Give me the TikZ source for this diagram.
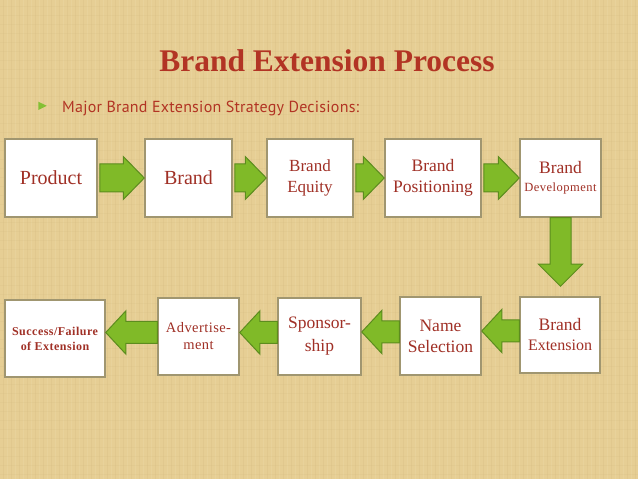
\documentclass[tikz,border=0pt]{standalone}
\usepackage{fontspec}
\setmainfont{Liberation Serif}
\newfontfamily\subfont{PT Sans}
\usetikzlibrary{calc}
\definecolor{bg}{RGB}{230,206,148}
\definecolor{bgdark}{RGB}{205,178,118}
\definecolor{bglight}{RGB}{240,222,176}
\definecolor{titlered}{RGB}{178,52,36}
\definecolor{txtred}{RGB}{160,48,38}
\definecolor{boxline}{RGB}{160,150,112}
\definecolor{arrfill}{RGB}{128,186,40}
\definecolor{arrline}{RGB}{92,140,30}
\definecolor{bullet}{RGB}{132,192,52}
\tikzset{
  stepbox/.style={draw=boxline, line width=1.5pt, fill=white, text=txtred, align=center, inner sep=1pt},
  greenarr/.style={fill=arrfill, draw=arrline, line width=1pt, line join=miter},
}
\newcommand{\arrR}[2]{\path[greenarr] let \p1=(#1.east), \p2=(#2.west) in
  (\x1+2,\y1+14) -- (\x2-21,\y1+14) -- (\x2-21,\y1+21.5) -- (\x2,\y1) --
  (\x2-21,\y1-21.5) -- (\x2-21,\y1-14) -- (\x1+2,\y1-14) -- cycle;}
\newcommand{\arrL}[2]{\path[greenarr] let \p1=(#1.west), \p2=(#2.east) in
  (\x1,\y1+15) -- (\x2+20,\y1+15) -- (\x2+20,\y1+25.5) -- (\x2,\y1+4) --
  (\x2+20,\y1-17.5) -- (\x2+20,\y1-7) -- (\x1,\y1-7) -- cycle;}
\begin{document}
\begin{tikzpicture}[x=1pt,y=1pt]
\useasboundingbox (0,0) rectangle (638,479);
\fill[bg] (0,0) rectangle (638,479);
\foreach \i in {3,11,...,638} \draw[bgdark, opacity=0.18, line width=0.8pt] (\i,0) -- (\i,479);
\foreach \i in {7,15,...,638} \draw[bglight, opacity=0.25, line width=1pt] (\i,0) -- (\i,479);
\foreach \j in {5,14,...,479} \draw[bgdark, opacity=0.12, line width=0.8pt] (0,\j) -- (638,\j);

% title and subtitle
\node[anchor=base, text=titlered, inner sep=0pt, font=\fontsize{31.5}{36}\selectfont\bfseries] (title) at (327,407) {Brand Extension Process};
\fill[bullet] (38.3,377.3) -- (46.7,373.2) -- (38.3,369) -- cycle;
\node[anchor=base west, text=titlered, inner sep=0pt, font=\subfont\fontsize{16}{18}\selectfont\addfontfeatures{LetterSpace=1.5}] (sub) at (62,366.7) {Major Brand Extension Strategy Decisions:};

% top row
\node[stepbox, minimum width=92pt, minimum height=78pt, font=\fontsize{20}{24}\selectfont] (product) at (51,301) {Product};
\node[stepbox, minimum width=87pt, minimum height=78pt, font=\fontsize{20}{24}\selectfont] (brand) at (188.5,301) {Brand};
\node[stepbox, minimum width=86pt, minimum height=78pt, font=\fontsize{17}{21}\selectfont] (equity) at (310,301) {Brand\\Equity};
\node[stepbox, minimum width=96pt, minimum height=78pt, font=\fontsize{17.5}{21}\selectfont] (positioning) at (433,301) {Brand\\Positioning};
\node[stepbox, minimum width=81pt, minimum height=78pt, font=\fontsize{17.5}{18}\selectfont] (development) at (560.5,301) {Brand\\{\fontsize{12.5}{18}\selectfont\addfontfeatures{LetterSpace=4}Development}};

% bottom row
\node[stepbox, minimum width=80pt, minimum height=76pt, font=\fontsize{17.5}{20}\selectfont] (extension) at (560,144) {Brand\\{\fontsize{16}{20}\selectfont Extension}};
\node[stepbox, minimum width=81pt, minimum height=78pt, font=\fontsize{17.5}{21}\selectfont] (namesel) at (440.5,143) {Name\\Selection};
\node[stepbox, minimum width=83pt, minimum height=77pt, font=\fontsize{17.5}{23}\selectfont] (sponsor) at (319.5,142.5) {Sponsor-\\ship};
\node[stepbox, minimum width=81pt, minimum height=77pt, font=\fontsize{14.5}{17}\selectfont\addfontfeatures{LetterSpace=3}] (advert) at (198.5,142.5) {Advertise-\\ment};
\node[stepbox, minimum width=100pt, minimum height=77pt, font=\fontsize{12}{15}\selectfont\bfseries\addfontfeatures{LetterSpace=4}] (success) at (55,140.5) {Success/Failure\\of Extension};

% arrows
\arrR{product}{brand}
\arrR{brand}{equity}
\arrR{equity}{positioning}
\arrR{positioning}{development}
\path[greenarr] let \p1=(development.south), \p2=(extension.north) in
  (\x1-10.5,\y1) -- (\x1-10.5,\y2+32) -- (\x1-22,\y2+32) -- (\x1,\y2+10) --
  (\x1+22,\y2+32) -- (\x1+10.5,\y2+32) -- (\x1+10.5,\y1) -- cycle;
\arrL{extension}{namesel}
\arrL{namesel}{sponsor}
\arrL{sponsor}{advert}
\arrL{advert}{success}
\end{tikzpicture}
\end{document}
